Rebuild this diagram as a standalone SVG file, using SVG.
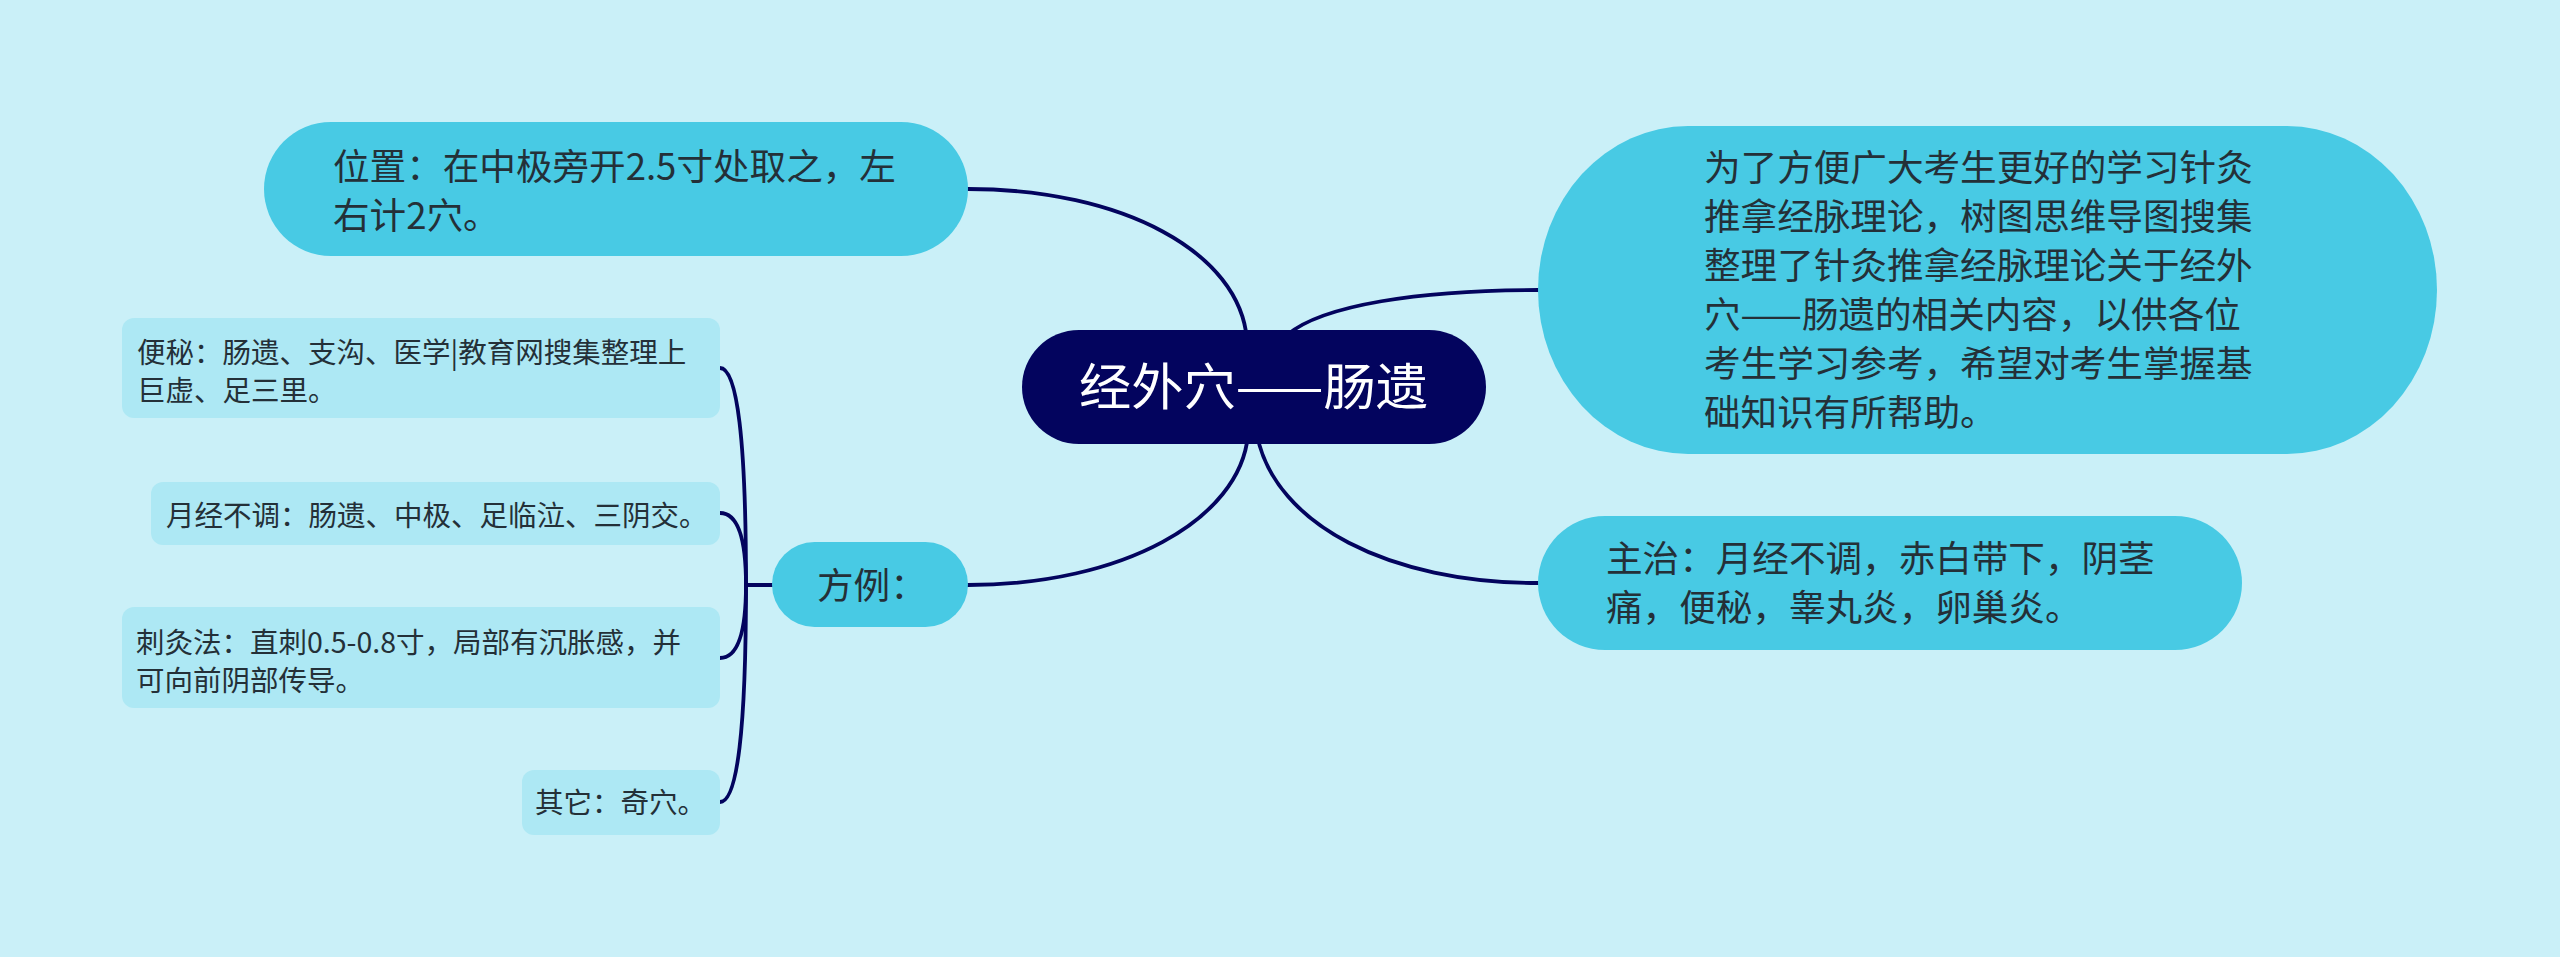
<svg xmlns="http://www.w3.org/2000/svg" width="2560" height="957" viewBox="0 0 2560 957">
<style>
.bg{fill:#CAF0F8}
.l1{fill:#48CAE4}
.leaf{fill:#ADE8F4}
.root{fill:#03045E}
.t{font-family:"Noto Sans CJK SC","Noto Sans",sans-serif;fill:#243038}
.t1{font-size:36.6px}
.t2{font-size:28.5px}
.tr{font-family:"Noto Sans CJK SC","Noto Sans",sans-serif;fill:#ffffff;font-size:50px}
.c{fill:none;stroke:#03045E;stroke-width:3.8;stroke-linecap:round}
</style>
<rect class="bg" x="0" y="0" width="2560" height="957"/>
<g id="connectors">
<path class="c" d="M968 189 C1122 189 1240 252 1247 340"/>
<path class="c" d="M1287 335 C1322 305 1420 290 1538 290"/>
<path class="c" d="M1248 435 C1240 520 1122 585 968 585"/>
<path class="c" d="M1257 435 C1275 525 1390 583 1538 583"/>
<path class="c" d="M772 585 L746 585"/>
<path class="c" d="M746 585 Q746 368 720 368"/>
<path class="c" d="M746 585 Q746 513 720 513"/>
<path class="c" d="M746 585 Q746 658 720 658"/>
<path class="c" d="M746 585 Q746 802 720 802"/>
</g>
<g id="root">
<rect class="root" x="1022" y="330" width="464" height="114" rx="57"/>
<text class="tr" x="1079" y="405" textLength="349" lengthAdjust="spacingAndGlyphs">经外穴——肠遗</text>
</g>
<g id="n-position">
<rect class="l1" x="264" y="122" width="704" height="134" rx="67"/>
<text class="t t1" x="333" y="180">位置：在中极旁开2.5寸处取之，左</text>
<text class="t t1" x="333" y="229">右计2穴。</text>
</g>
<g id="n-intro">
<rect class="l1" x="1538" y="126" width="899" height="328" rx="150" ry="164"/>
<text class="t t1" x="1704" y="181">为了方便广大考生更好的学习针灸</text>
<text class="t t1" x="1704" y="230">推拿经脉理论，树图思维导图搜集</text>
<text class="t t1" x="1704" y="279">整理了针灸推拿经脉理论关于经外</text>
<text class="t t1" x="1704" y="328">穴——肠遗的相关内容，以供各位</text>
<text class="t t1" x="1704" y="377">考生学习参考，希望对考生掌握基</text>
<text class="t t1" x="1704" y="426">础知识有所帮助。</text>
</g>
<g id="n-indication">
<rect class="l1" x="1538" y="516" width="704" height="134" rx="67"/>
<text class="t t1" x="1606" y="572">主治：月经不调，赤白带下，阴茎</text>
<text class="t t1" x="1606" y="621">痛，便秘，睾丸炎，卵巢炎。</text>
</g>
<g id="n-prescription">
<rect class="l1" x="772" y="542" width="196" height="85" rx="42.5"/>
<text class="t t1" x="817" y="599">方例：</text>
</g>
<g id="leaf-constipation">
<rect class="leaf" x="122" y="318" width="598" height="100" rx="12"/>
<text class="t t2" x="137" y="363">便秘：肠遗、支沟、医学|教育网搜集整理上</text>
<text class="t t2" x="137" y="401">巨虚、足三里。</text>
</g>
<g id="leaf-menses">
<rect class="leaf" x="151" y="482" width="569" height="63" rx="12"/>
<text class="t t2" x="166" y="526">月经不调：肠遗、中极、足临泣、三阴交。</text>
</g>
<g id="leaf-needling">
<rect class="leaf" x="122" y="607" width="598" height="101" rx="12"/>
<text class="t t2" x="136" y="653">刺灸法：直刺0.5-0.8寸，局部有沉胀感，并</text>
<text class="t t2" x="136" y="691">可向前阴部传导。</text>
</g>
<g id="leaf-other">
<rect class="leaf" x="522" y="770" width="198" height="65" rx="12"/>
<text class="t t2" x="535" y="813">其它：奇穴。</text>
</g>
</svg>
